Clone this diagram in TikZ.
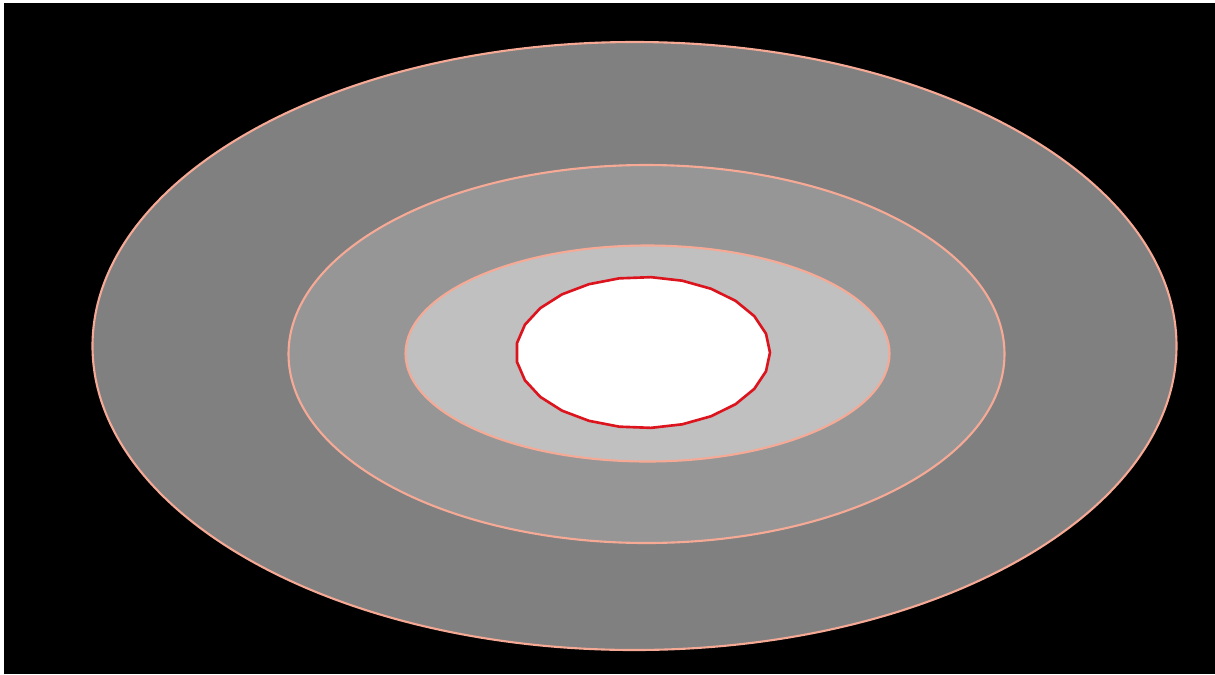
\documentclass[tikz,border=0pt]{standalone}
\usepackage{xcolor}
\usepackage{tikz}
\usetikzlibrary{backgrounds}

\definecolor{ringline}{RGB}{246,170,150}
\definecolor{outergray}{RGB}{128,128,128}
\definecolor{midgray}{RGB}{150,150,150}
\definecolor{innergray}{RGB}{192,192,192}
\definecolor{coreline}{RGB}{220,20,30}

\begin{document}
\begin{tikzpicture}[
    x=0.02cm, y=-0.02cm,
    ring/.style={draw=ringline, line width=1.2pt},
    core/.style={draw=coreline, fill=white, line width=1.5pt, line join=round},
]
    \useasboundingbox (0,0) rectangle (1215,674);
    \fill[white] (0,0) rectangle (1215,674);
    \fill[black] (4,3) rectangle (1215,674);

    \draw[ring, fill=outergray] (634.5,346) ellipse [x radius=542, y radius=304];
    \draw[ring, fill=midgray] (646.5,354) ellipse [x radius=358, y radius=189];
    \draw[ring, fill=innergray] (647.5,353.5) ellipse [x radius=242, y radius=108];
    \draw[core] plot[samples=26, domain=0:360, variable=\t]
        ({643+127*cos(\t)}, {352.5+75.5*sin(\t)}) -- cycle;
\end{tikzpicture}
\end{document}
